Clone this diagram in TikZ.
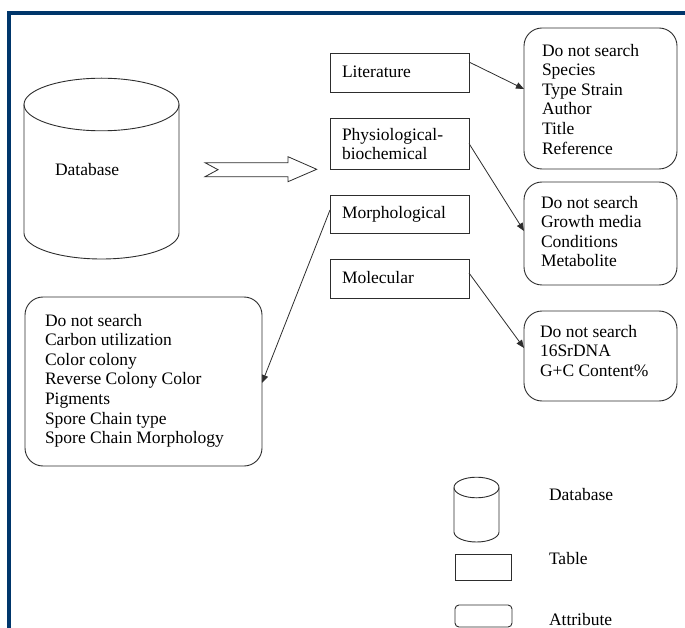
\documentclass[tikz,border=0pt]{standalone}
\usepackage{fontspec}
\setmainfont{Liberation Serif}
\usetikzlibrary{arrows.meta}
\definecolor{frameblue}{RGB}{0,54,107}
\definecolor{ink}{RGB}{45,45,45}
\begin{document}
\begin{tikzpicture}[x=1pt,y=-1pt,
  every node/.style={inner sep=0pt, outer sep=0pt},
  txt/.style={font=\fontsize{17.5}{19.6}\selectfont, align=left, text=black},
  tablebox/.style={draw=ink, line width=0.9pt, rectangle, anchor=north west},
  attrbox/.style={draw=ink, line width=0.9pt, rectangle, rounded corners=18pt, anchor=north west},
  link/.style={draw=ink, line width=0.8pt, -{Triangle[length=8pt,width=6.5pt]}},
  shapeline/.style={draw=ink, line width=0.9pt}
]
\useasboundingbox (0,0) rectangle (685,628);
% frame
\fill[frameblue] (7,11) rectangle (685,15);
\fill[frameblue] (7,11) rectangle (11,628);

% main database cylinder
\draw[shapeline] (101.5,104.5) ellipse [x radius=77.5, y radius=26.3];
\draw[shapeline] (24,104.5) -- (24,233) .. controls (24,247.4) and (58.7,259) .. (101.5,259)
  .. controls (144.3,259) and (179,247.4) .. (179,233) -- (179,104.5);
\node[txt, anchor=base west] (dbtext) at (55,176) {Database};

% block arrow
\draw[shapeline, line width=0.8pt] (205,162.7) -- (288,162.7) -- (288,156.7) -- (316.7,169.3)
  -- (288,181.7) -- (288,176.7) -- (205,176.7) -- (218,169.7) -- cycle;

% tables
\node[tablebox, minimum width=139pt, minimum height=39pt] (lit) at (330,53) {};
\node[tablebox, minimum width=139pt, minimum height=51pt] (phys) at (330,118) {};
\node[tablebox, minimum width=139pt, minimum height=38pt] (morph) at (330,195) {};
\node[tablebox, minimum width=139pt, minimum height=39pt] (mol) at (330,259) {};

\node[txt, anchor=base west] (littext) at (342,77.5) {Literature};
\node[txt, anchor=north west] (phystext) at (342,128) {Physiological-\\biochemical};
\node[txt, anchor=base west] (morphtext) at (342,219) {Morphological};
\node[txt, anchor=base west] (moltext) at (342,283.5) {Molecular};

% attributes
\node[attrbox, minimum width=153pt, minimum height=141pt] (att1) at (524,28) {};
\node[attrbox, minimum width=153pt, minimum height=103pt] (att2) at (524,182) {};
\node[attrbox, minimum width=153pt, minimum height=90pt] (att3) at (524,311) {};
\node[attrbox, minimum width=237pt, minimum height=169pt] (att4) at (25,297) {};

\node[txt, anchor=north west] (att1text) at (542,44) {Do not search\\Species\\Type Strain\\Author\\Title\\Reference};
\node[txt, anchor=north west] (att2text) at (541,196) {Do not search\\Growth media\\Conditions\\Metabolite};
\node[txt, anchor=north west] (att3text) at (540,325) {Do not search\\16SrDNA\\G+C Content\%};
\node[txt, anchor=north west] (att4text) at (45,314) {Do not search\\Carbon utilization\\Color colony\\Reverse Colony Color\\Pigments\\Spore Chain type\\Spore Chain Morphology};

% connectors
\draw[link] ([yshift=10.5pt]lit.east) -- ([yshift=9.5pt]att1.west);
\draw[link] (phys.east) -- ([yshift=2.5pt]att2.west);
\draw[link] ([yshift=5.5pt]mol.east) -- ([yshift=8pt]att3.west);
\draw[link] ([yshift=4pt]morph.west) -- ([yshift=-1.5pt]att4.east);

% legend
\draw[shapeline] (476.5,487.5) ellipse [x radius=22.5, y radius=10.3];
\draw[shapeline] (454,487.5) -- (454,532) .. controls (454,537.5) and (464.1,542) .. (476.5,542)
  .. controls (488.9,542) and (499,537.5) .. (499,532) -- (499,487.5);
\node[tablebox, minimum width=56pt, minimum height=26pt] (lgtable) at (455,554) {};
\node[attrbox, rounded corners=4pt, minimum width=57pt, minimum height=22pt] (lgattr) at (455,605) {};
\node[txt, anchor=base west] (lgdbtext) at (549,500) {Database};
\node[txt, anchor=base west] (lgtabletext) at (549,564) {Table};
\node[txt, anchor=base west] (lgattrtext) at (549,625) {Attribute};
\end{tikzpicture}
\end{document}
